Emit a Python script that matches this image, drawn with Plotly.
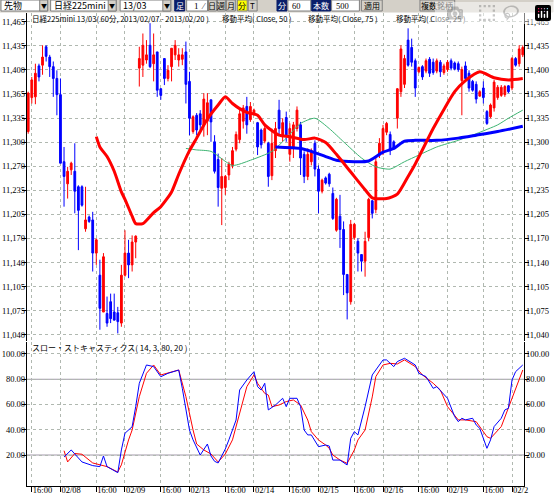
import plotly.graph_objects as go

W, H = 557, 500

# ---- 60-minute bars, 日経225mini 13/03 (index = bar position) ----
bar_open = [11316, 11362, 11363, 11405, 11406, 11431, 11417, 11404, 11388, 11366,
            11275, 11245, 11264, 11262, 11241, 11241, 11184, 11200, 11196, 11151,
            11121, 11071, 11069, 11085, 11071, 11070, 11056, 11121, 11151, 11135,
            11166, 11402, 11406, 11413, 11433, 11408, 11424, 11374, 11415, 11388,
            11404, 11420, 11413, 11414, 11424, 11384, 11316, 11338, 11340, 11325,
            11330, 11359, 11302, 11278, 11239, 11240, 11257, 11270, 11292, 11305,
            11330, 11350, 11332, 11340, 11328, 11318, 11303, 11300, 11256, 11290,
            11345, 11310, 11335, 11285, 11295, 11320, 11325, 11285, 11255, 11275,
            11300, 11265, 11235, 11253, 11258, 11232, 11182, 11201, 11183, 11122,
            11085, 11172, 11167, 11149, 11140, 11172, 11222, 11210, 11284, 11290,
            11315, 11312, 11302, 11334, 11370, 11380, 11440, 11430, 11412, 11397,
            11404, 11398, 11414, 11410, 11398, 11410, 11396, 11400, 11412, 11409,
            11408, 11385, 11405, 11395, 11384, 11380, 11364, 11375, 11343, 11336,
            11348, 11362, 11365, 11366, 11378, 11375, 11415, 11408, 11420]
bar_high = [11370, 11390, 11408, 11408, 11433, 11433, 11420, 11411, 11399, 11388,
            11295, 11268, 11275, 11300, 11243, 11243, 11241, 11202, 11207, 11171,
            11142, 11151, 11092, 11096, 11096, 11078, 11135, 11182, 11169, 11175,
            11175, 11431, 11449, 11440, 11463, 11449, 11424, 11375, 11415, 11406,
            11429, 11440, 11429, 11429, 11438, 11397, 11338, 11341, 11345, 11368,
            11368, 11359, 11311, 11286, 11280, 11257, 11275, 11295, 11316, 11347,
            11352, 11363, 11356, 11347, 11329, 11320, 11325, 11302, 11320, 11329,
            11359, 11334, 11343, 11327, 11329, 11350, 11329, 11289, 11293, 11293,
            11304, 11270, 11252, 11255, 11260, 11240, 11226, 11230, 11194, 11122,
            11196, 11192, 11171, 11149, 11180, 11226, 11223, 11282, 11307, 11325,
            11329, 11316, 11304, 11375, 11433, 11420, 11456, 11442, 11415, 11404,
            11406, 11415, 11417, 11415, 11415, 11413, 11408, 11413, 11415, 11411,
            11411, 11404, 11411, 11399, 11386, 11384, 11372, 11384, 11345, 11354,
            11386, 11379, 11379, 11379, 11379, 11417, 11417, 11433, 11433]
bar_low = [11313, 11354, 11353, 11384, 11393, 11411, 11390, 11363, 11338, 11273,
           11214, 11225, 11257, 11205, 11155, 11214, 11180, 11192, 11126, 11135,
           11047, 11071, 11051, 11056, 11060, 11042, 11051, 11119, 11117, 11126,
           11144, 11377, 11390, 11408, 11402, 11384, 11363, 11359, 11379, 11384,
           11384, 11413, 11404, 11406, 11354, 11311, 11313, 11311, 11318, 11309,
           11311, 11302, 11259, 11214, 11189, 11230, 11250, 11266, 11289, 11300,
           11320, 11313, 11329, 11338, 11284, 11293, 11300, 11241, 11250, 11280,
           11311, 11302, 11302, 11275, 11280, 11316, 11257, 11246, 11250, 11270,
           11255, 11205, 11232, 11244, 11241, 11196, 11180, 11158, 11094, 11061,
           11081, 11169, 11126, 11126, 11119, 11167, 11198, 11205, 11280, 11284,
           11311, 11284, 11291, 11320, 11363, 11375, 11404, 11404, 11363, 11395,
           11386, 11395, 11390, 11393, 11395, 11390, 11393, 11397, 11399, 11399,
           11397, 11338, 11384, 11370, 11370, 11354, 11363, 11354, 11325, 11334,
           11343, 11359, 11363, 11363, 11368, 11372, 11404, 11404, 11417]
bar_close = [11368, 11386, 11395, 11390, 11417, 11418, 11404, 11388, 11366, 11273,
             11255, 11262, 11273, 11235, 11209, 11216, 11196, 11194, 11151, 11169,
             11076, 11146, 11056, 11062, 11060, 11058, 11121, 11151, 11135, 11166,
             11174, 11415, 11433, 11420, 11404, 11420, 11372, 11365, 11388, 11399,
             11429, 11433, 11420, 11420, 11380, 11334, 11336, 11318, 11325, 11360,
             11355, 11329, 11262, 11240, 11255, 11255, 11272, 11290, 11312, 11340,
             11348, 11325, 11350, 11345, 11295, 11298, 11320, 11255, 11300, 11320,
             11320, 11328, 11310, 11320, 11325, 11345, 11280, 11255, 11285, 11290,
             11265, 11235, 11250, 11246, 11245, 11198, 11224, 11183, 11122, 11097,
             11190, 11190, 11151, 11140, 11167, 11224, 11205, 11275, 11300, 11320,
             11327, 11290, 11294, 11374, 11428, 11415, 11406, 11410, 11375, 11403,
             11390, 11412, 11395, 11396, 11412, 11397, 11405, 11410, 11402, 11401,
             11400, 11400, 11388, 11375, 11372, 11360, 11370, 11362, 11327, 11352,
             11383, 11376, 11376, 11377, 11370, 11415, 11406, 11428, 11430]
bar_idx = list(range(len(bar_open)))

# moving averages (bar index -> value)
ma25_idx = [19, 20, 22, 24, 26, 27, 29, 30, 32, 35, 37, 40, 42, 45, 47, 50, 53, 55, 57, 59,
            61, 64, 66, 70, 73, 77, 80, 83, 86, 90, 94, 96, 100, 103, 106, 108, 113, 116,
            119, 122, 126, 130, 134, 138]
ma25_val = [11309, 11295, 11282, 11262, 11234, 11224, 11201, 11191, 11191, 11206, 11214,
            11234, 11258, 11290, 11307, 11333, 11352, 11363, 11354, 11347, 11342, 11338,
            11325, 11311, 11309, 11305, 11307, 11301, 11285, 11261, 11237, 11226, 11225,
            11231, 11255, 11272, 11320, 11346, 11370, 11385, 11397, 11389, 11386, 11388]
ma50_idx = [44, 47, 51, 57, 62, 68, 72, 76, 80, 84, 88, 93, 97, 101, 105, 109, 114, 120,
            125, 131, 134, 138]
ma50_val = [11293, 11291, 11289, 11270, 11277, 11289, 11307, 11327, 11334, 11320, 11302,
            11280, 11268, 11265, 11275, 11284, 11295, 11304, 11313, 11325, 11334, 11345]
ma75_idx = [69, 76, 79, 83, 86, 91, 95, 99, 102, 105, 108, 114, 120, 125, 131, 138]
ma75_val = [11295, 11293, 11289, 11282, 11277, 11275, 11276, 11288, 11293, 11303, 11304,
            11304, 11307, 11311, 11316, 11323]

# slow stochastics (14, 3)
stk_idx = [10, 12, 13, 15, 18, 20, 21, 22, 25, 26, 27, 29, 30, 31, 33, 35, 37, 39, 42, 43,
           45, 46, 48, 50, 51, 52, 53, 55, 56, 58, 59, 61, 63, 64, 65, 66, 67, 69, 71, 72,
           73, 75, 76, 77, 78, 79, 81, 83, 84, 85, 87, 89, 90, 91, 92, 94, 96, 99, 100, 102,
           103, 105, 108, 109, 111, 113, 114, 117, 119, 120, 121, 122, 124, 125, 126, 128,
           129, 130, 132, 133, 134, 135, 136, 138]
stk_k = [18.4, 24, 20.8, 14.5, 11.6, 10.8, 19.2, 10.8, 6, 24, 37.2, 42.4, 58.3, 76.8, 91.3,
         90, 82, 84.7, 87.3, 72.8, 39.8, 32, 20, 28.7, 19.2, 15, 13.7, 24.8, 32, 47.7, 71.5,
         79.4, 86, 74.1, 71.5, 76.8, 55.7, 59.6, 64.9, 58.3, 64.9, 64.9, 58.3, 39.8, 35.9,
         35.9, 26.6, 27.9, 27.1, 16, 16, 12.1, 33.2, 38.5, 35.9, 58.3, 83.4, 95.3, 95.3, 90,
         94, 96.6, 91.3, 84.7, 82.1, 72.8, 74.1, 64.9, 50.4, 46.4, 49.1, 47.8, 49.1, 43.8,
         41.1, 25.3, 31.9, 42.5, 49.1, 55.7, 57, 79.4, 86, 91.3]
std_idx = [10, 11, 13, 15, 18, 22, 25, 26, 28, 29, 31, 33, 35, 37, 42, 44, 46, 47, 49, 51,
           53, 55, 57, 59, 61, 63, 64, 66, 67, 68, 70, 72, 74, 76, 78, 79, 81, 83, 84, 85,
           87, 89, 91, 92, 94, 96, 97, 99, 101, 103, 105, 108, 110, 113, 115, 117, 120, 122,
           125, 128, 129, 132, 134, 136, 138]
std_d = [23.4, 14.5, 21.2, 20.6, 13.7, 10.8, 6.5, 12.2, 31.9, 39.8, 66.2, 84.7, 91.3, 83.4,
         87.3, 66.2, 39.8, 28.7, 24, 20.8, 14.5, 20.8, 32, 53, 74.1, 83.4, 76.8, 68.8, 67.5,
         58.3, 59.6, 62.3, 63.6, 59.6, 47.7, 38.5, 31.9, 27.9, 25.3, 20, 16, 13.4, 24, 31.9,
         39.8, 66, 82.1, 91.3, 92.6, 92.1, 95.3, 90, 83.4, 76.8, 71.5, 58.3, 47.8, 47.8, 46.4,
         34.5, 33.2, 42.5, 57, 71.5, 87.3]

time_tick_pos = [1, 9, 19, 27, 37, 45, 55, 63, 73, 81, 91, 99, 109, 117, 127, 135]
time_tick_text = ['16:00', '02/08', '16:00', '02/09', '16:00', '02/13', '16:00', '02/14',
                  '16:00', '02/15', '16:00', '02/16', '16:00', '02/19', '16:00', '02/2']

price_tick_vals = [11465, 11432.3, 11399.6, 11366.9, 11334.2, 11301.5, 11268.8, 11236.2,
                   11203.5, 11170.8, 11138.1, 11105.4, 11072.7, 11040]
price_tick_text = ['11,465', '11,435', '11,400', '11,365', '11,335', '11,300', '11,270',
                   '11,235', '11,205', '11,170', '11,140', '11,105', '11,075', '11,040']
stoch_tick_vals = [100, 80, 60, 40, 20]
stoch_tick_text = ['100.00', '80.00', '60.00', '40.00', '20.00']

FONT = 'Liberation Sans Narrow'
JFONT = 'Noto Sans CJK JP'
GRID = '#b0b8b0'

x_dom = [27 / W, 528 / W]
x_rng = [-0.39, 138.4]

fig = go.Figure()

fig.add_trace(go.Candlestick(
    x=bar_idx, open=bar_open, high=bar_high, low=bar_low, close=bar_close,
    increasing=dict(line=dict(color='#ff0000', width=1), fillcolor='#ff0000'),
    decreasing=dict(line=dict(color='#0000ff', width=1), fillcolor='#0000ff'),
    whiskerwidth=0, showlegend=False, hoverinfo='skip', xaxis='x', yaxis='y'))

fig.add_trace(go.Scatter(x=ma50_idx, y=ma50_val, mode='lines',
                         line=dict(color='#3cb371', width=1, shape='spline', smoothing=0.6),
                         showlegend=False, hoverinfo='skip', xaxis='x', yaxis='y'))
fig.add_trace(go.Scatter(x=ma75_idx, y=ma75_val, mode='lines',
                         line=dict(color='#0000ff', width=3, shape='spline', smoothing=0.6),
                         showlegend=False, hoverinfo='skip', xaxis='x', yaxis='y'))
fig.add_trace(go.Scatter(x=ma25_idx, y=ma25_val, mode='lines',
                         line=dict(color='#ff0000', width=3, shape='spline', smoothing=0.6),
                         showlegend=False, hoverinfo='skip', xaxis='x', yaxis='y'))

fig.add_trace(go.Scatter(x=std_idx, y=std_d, mode='lines', line=dict(color='#ff0000', width=1),
                         showlegend=False, hoverinfo='skip', xaxis='x2', yaxis='y2'))
fig.add_trace(go.Scatter(x=stk_idx, y=stk_k, mode='lines', line=dict(color='#0000ff', width=1),
                         showlegend=False, hoverinfo='skip', xaxis='x2', yaxis='y2'))

# invisible traces so the right-hand label axes get drawn
fig.add_trace(go.Scatter(x=[0], y=[11300], mode='markers', marker=dict(opacity=0),
                         showlegend=False, hoverinfo='skip', xaxis='x', yaxis='y3'))
fig.add_trace(go.Scatter(x=[0], y=[50], mode='markers', marker=dict(opacity=0),
                         showlegend=False, hoverinfo='skip', xaxis='x2', yaxis='y4'))

tick_font = dict(family=FONT, size=8.5, color='black')

common_y = dict(ticks='outside', ticklen=4, tickcolor='black', showline=True, linecolor='black',
                linewidth=1, zeroline=False, tickfont=tick_font, automargin=False, fixedrange=True,
                ticklabelstandoff=-5)

fig.update_layout(
    width=W, height=H,
    margin=dict(l=0, r=0, t=0, b=0),
    paper_bgcolor='white', plot_bgcolor='white',
    hovermode=False,
    xaxis=dict(domain=x_dom, range=x_rng, anchor='y', tickvals=time_tick_pos, showticklabels=False,
               showgrid=True, gridcolor=GRID, griddash='dot', gridwidth=1, zeroline=False,
               rangeslider=dict(visible=False), fixedrange=True),
    xaxis2=dict(domain=x_dom, range=x_rng, anchor='y2', tickvals=time_tick_pos, ticktext=time_tick_text,
                ticks='outside', ticklen=5, tickcolor='black', ticklabelposition='outside right',
                ticklabelstandoff=-4, tickangle=0, showline=True, linecolor='black', showgrid=True,
                gridcolor=GRID, griddash='dot', zeroline=False, tickfont=tick_font, fixedrange=True),
    yaxis=dict(domain=[1 - 341 / H, 1 - 13 / H], range=[11031.7, 11476.8], anchor='x', side='left',
               tickvals=price_tick_vals, ticktext=price_tick_text, showgrid=True, gridcolor=GRID,
               griddash='dot', **common_y),
    yaxis3=dict(range=[11031.7, 11476.8], overlaying='y', anchor='x', side='right',
                tickvals=price_tick_vals, ticktext=price_tick_text, showgrid=False, **common_y),
    yaxis2=dict(domain=[1 - 486 / H, 1 - 342 / H], range=[-4.55, 109.5], anchor='x2', side='left',
                tickvals=stoch_tick_vals, ticktext=stoch_tick_text, showgrid=True, gridcolor=GRID,
                griddash='dot', **common_y),
    yaxis4=dict(range=[-4.55, 109.5], overlaying='y2', anchor='x2', side='right',
                tickvals=stoch_tick_vals, ticktext=stoch_tick_text, showgrid=False, **common_y),
)

shapes = []
annotations = []

# stochastic 80 / 20 reference lines
for lvl in (80, 20):
    shapes.append(dict(type='line', xref='paper', yref='y2', x0=x_dom[0], x1=x_dom[1], y0=lvl, y1=lvl,
                       line=dict(color='#a098a8', width=1), layer='below'))


def text(x, y, s, color='black', size=8, anchor='left', family=JFONT):
    annotations.append(dict(xref='paper', yref='paper', x=x / W, y=1 - y / H, text=s, showarrow=False,
                            xanchor=anchor, yanchor='middle', font=dict(family=family, size=size, color=color)))


def rect(x0, x1, fill, y0=0, y1=11, line='#808080'):
    shapes.append(dict(type='rect', xref='paper', yref='paper', x0=x0 / W, x1=x1 / W,
                       y0=1 - y1 / H, y1=1 - y0 / H, fillcolor=fill, line=dict(color=line, width=1),
                       layer='above'))


# toolbar strip
rect(0, W, '#d4d0c8', y0=0, y1=12, line='#d4d0c8')
NAVY = '#0a1e6a'
for x0, x1, s in [(1, 48, '先物'), (51, 117, '日経225mini'), (121, 172, '13/03')]:
    rect(x0, x1, 'white')
    rect(x1 - 8, x1, '#d4d0c8')
    text(x0 + 1, 5.5, s, size=9)
    text(x1 - 4, 5.5, '▼', size=6, anchor='center')
rect(176, 186, NAVY, line=NAVY)
text(181, 5.5, '足', color='white', anchor='center')
rect(188, 209, 'white')
text(202, 5.5, '1', size=9, anchor='right', family=FONT)
text(205, 5.5, '⁄', size=8, anchor='center')
for x0, x1, s, fill in [(210, 218, '日', '#d4d0c8'), (219, 227, '週', '#d4d0c8'),
                        (228, 237, '月', '#d4d0c8'), (239, 249, '分', '#ffff00'), (250, 259, 'T', '#d4d0c8')]:
    rect(x0, x1, fill)
    text((x0 + x1) / 2, 5.5, s, anchor='center')
rect(279, 289, NAVY, line=NAVY)
text(284, 5.5, '分', color='white', anchor='center')
rect(290, 313, 'white')
text(305, 5.5, '60', anchor='right', family=FONT, size=8.5)
rect(314, 333, NAVY, line=NAVY)
text(323.5, 5.5, '本数', color='white', anchor='center')
rect(334, 362, 'white')
text(354, 5.5, '500', anchor='right', family=FONT, size=8.5)
rect(364, 385, '#d4d0c8')
text(374.5, 5.5, '適用', anchor='center')
rect(423, 458, '#d4d0c8')
text(440.5, 5.5, '複数銘柄', anchor='center')

# panel captions
text(30, 18, '日経225mini 13/03( 60分, 2013/02/07 - 2013/02/20 )', size=7.5)
text(222, 18, '移動平均( Close, 50 )', size=7.5)
text(308, 18, '移動平均( Close, 75 )', size=7.5)
text(397, 18, '移動平均( Close, 25 )', size=7.5)
text(30, 347, 'スロー・ストキャスティクス( 14, 3, 80, 20 )')

fig.update_layout(shapes=shapes, annotations=annotations)

# the page body has a default 8px margin; drop it so the figure sits at the window origin
fig.write_html("out.html", post_script="document.body.style.margin='0';")
